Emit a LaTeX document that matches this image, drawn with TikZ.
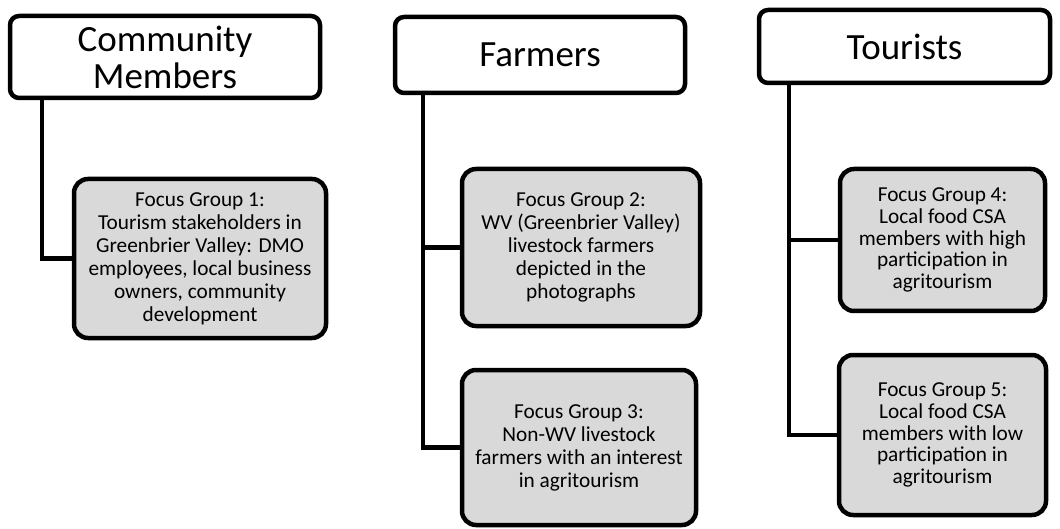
\documentclass[tikz,border=0pt]{standalone}
\usepackage{fontspec}
\setmainfont{Carlito}
\begin{document}
\begin{tikzpicture}[x=1pt,y=-1pt,
  hdr/.style={draw=black,line width=4.5pt,rounded corners=9pt,fill=white,align=center,
    font=\fontsize{37}{37}\selectfont,inner sep=0pt},
  fg/.style={draw=black,line width=4.5pt,rounded corners=14pt,fill=black!15,align=center,
    font=\fontsize{21.3}{23}\selectfont,inner sep=0pt},
  fgt/.style={fg,font=\fontsize{21.3}{21.6}\selectfont},
  conn/.style={line width=4.5pt}]
\useasboundingbox (0,0) rectangle (1060,529);
% headers
\node[hdr,minimum width=310pt,minimum height=82pt] (h1) at (165,57) {Community\\Members};
\node[hdr,minimum width=290pt,minimum height=76pt] (h2) at (540,55) {Farmers};
\node[hdr,minimum width=291pt,minimum height=73pt] (h3) at (904.5,46.5) {Tourists};
% focus groups
\node[fg,minimum width=252pt,minimum height=159pt] (f1) at (200,258.5) {Focus Group 1:\\Tourism stakeholders in\\Greenbrier Valley: DMO\\employees, local business\\owners, community\\development};
\node[fg,minimum width=238pt,minimum height=157pt] (f2) at (581,247.5) {Focus Group 2:\\WV (Greenbrier Valley)\\livestock farmers\\depicted in the\\photographs};
\node[fg,minimum width=234pt,minimum height=155pt] (f3) at (579,447.5) {Focus Group 3:\\Non-WV livestock\\farmers with an interest\\in agritourism};
\node[fgt,minimum width=205pt,minimum height=142pt] (f4) at (942.5,240) {Focus Group 4:\\Local food CSA\\members with high\\participation in\\agritourism};
\node[fgt,minimum width=207pt,minimum height=160pt] (f5) at (942.5,435) {Focus Group 5:\\Local food CSA\\members with low\\participation in\\agritourism};
% connector columns
\coordinate (c1) at (42,0);
\coordinate (c2) at (423,0);
\coordinate (c3) at (789,0);
\draw[conn] (h1.south -| c1) |- (f1.west);
\draw[conn] (h2.south -| c2) |- (f3.west);
\draw[conn] (f2.west -| c2) -- (f2.west);
\draw[conn] (h3.south -| c3) |- (f5.west);
\draw[conn] (f4.west -| c3) -- (f4.west);
\end{tikzpicture}
\end{document}
